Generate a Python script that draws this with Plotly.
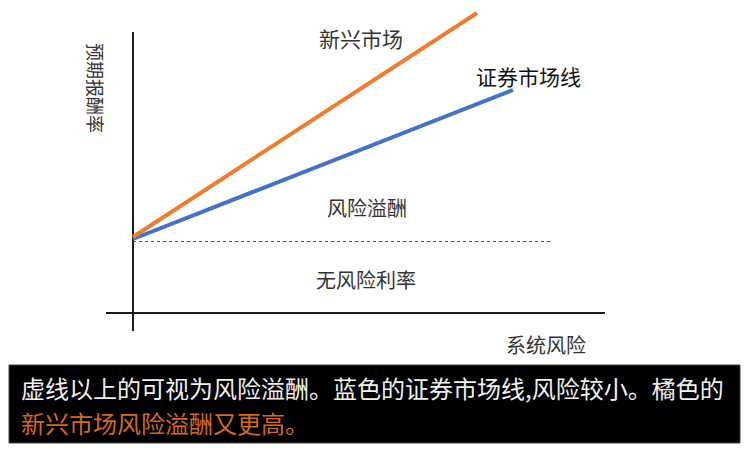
import plotly.graph_objects as go

# 系统风险 (beta) 与 预期报酬率 的示意数据
risk_sml = [0, 19.0]
ret_sml = [7.4, 22.3]
risk_em = [0, 17.2]
ret_em = [7.6, 30.0]
risk_rf = [0, 21.0]
ret_rf = [7.15, 7.15]

x_axis_x = [-1.35, 23.6]
x_axis_y = [0, 0]
y_axis_x = [0, 0]
y_axis_y = [-1.8, 28.1]

FONT = "Noto Sans CJK SC"
W, H = 743, 443  # page body has an 8px margin

fig = go.Figure()

# 坐标轴
fig.add_trace(go.Scatter(x=x_axis_x, y=x_axis_y, mode="lines",
                         line=dict(color="#1a1a1a", width=2), hoverinfo="skip"))
fig.add_trace(go.Scatter(x=y_axis_x, y=y_axis_y, mode="lines",
                         line=dict(color="#1a1a1a", width=2), hoverinfo="skip"))

# 无风险利率虚线
fig.add_trace(go.Scatter(x=risk_rf, y=ret_rf, mode="lines",
                         line=dict(color="#555555", width=1, dash="dot"), hoverinfo="skip"))

fig.add_trace(go.Scatter(x=risk_sml, y=ret_sml, mode="lines",
                         line=dict(color="#4472C4", width=4), name="证券市场线"))
fig.add_trace(go.Scatter(x=risk_em, y=ret_em, mode="lines",
                         line=dict(color="#ED7D31", width=4), name="新兴市场"))

labels = [
    ("新兴市场", 11.4, 27.5, 21, "#333333"),
    ("证券市场线", 19.75, 23.7, 21, "#111111"),
    ("风险溢酬", 11.7, 10.6, 20, "#333333"),
    ("无风险利率", 11.65, 3.4, 20, "#333333"),
    ("系统风险", 20.65, -3.1, 20, "#333333"),
]
for txt, x, y, size, color in labels:
    fig.add_annotation(x=x, y=y, text=txt, showarrow=False,
                       font=dict(family=FONT, size=size, color=color))

fig.add_annotation(x=-1.85, y=22.5, text="预期报酬率", showarrow=False, textangle=90,
                   font=dict(family=FONT, size=18, color="#333333"))

# 底部说明框
fig.add_shape(type="rect", xref="paper", yref="paper",
              x0=1 / W, x1=732 / W, y0=(H - 435) / H, y1=(H - 357) / H,
              fillcolor="black", line=dict(color="#444444", width=1), layer="above")
fig.add_annotation(xref="paper", yref="paper", x=11 / W, y=(H - 379) / H,
                   xanchor="left", yanchor="middle", showarrow=False,
                   text="虚线以上的可视为风险溢酬。蓝色的证券市场线,风险较小。橘色的",
                   font=dict(family=FONT, size=24, color="#f0f0f0"))
fig.add_annotation(xref="paper", yref="paper", x=11 / W, y=(H - 414) / H,
                   xanchor="left", yanchor="middle", showarrow=False,
                   text="新兴市场风险溢酬又更高。",
                   font=dict(family=FONT, size=24, color="#D2691E"))

fig.update_layout(
    width=W, height=H,
    margin=dict(l=0, r=0, t=0, b=0),
    plot_bgcolor="white", paper_bgcolor="white",
    showlegend=False,
    xaxis=dict(range=[-6.25, 30.9], visible=False, fixedrange=True),
    yaxis=dict(range=[-13.8, 30.5], visible=False, fixedrange=True),
)

fig.write_html("out.html")
